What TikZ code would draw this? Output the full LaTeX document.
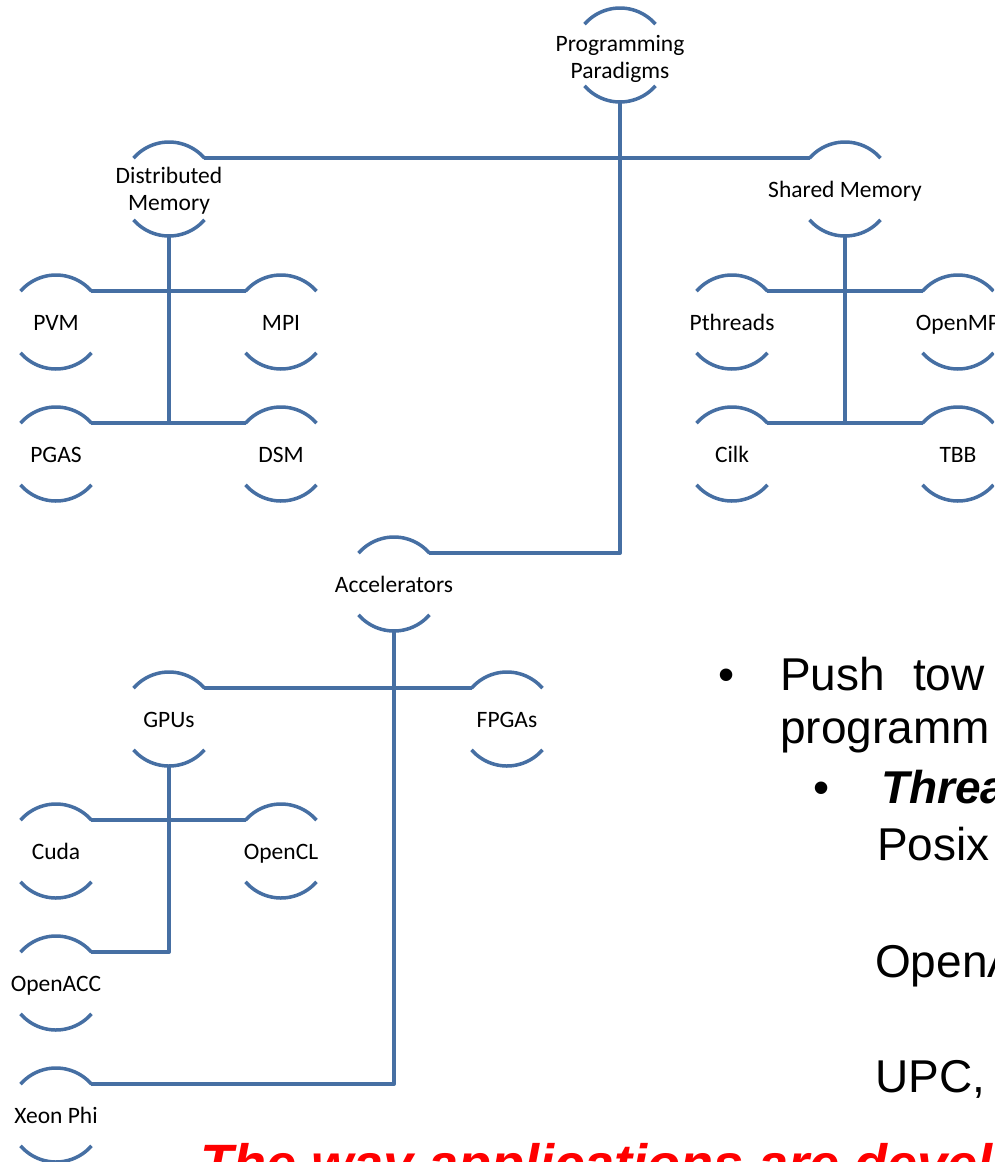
\documentclass[tikz,border=0pt]{standalone}
\usepackage{fontspec}
\setmainfont{Carlito}
\newfontfamily\arialfont{Liberation Sans}
\definecolor{paraline}{RGB}{70,111,163}
\definecolor{slidered}{RGB}{255,0,0}

\begin{document}
\begin{tikzpicture}[x=1pt, y=1pt,
	para/.style={circle, minimum size=94pt, inner sep=0pt, outer sep=0pt},
	rim/.style={color=paraline, line width=3.5pt},
	link/.style={color=paraline, line width=3.5pt, line join=round},
	every label/.style={font=\fontsize{23.5}{27}\selectfont, align=center, inner sep=0pt,
		yshift=-3.5pt, execute at begin node=\strut},
	slide/.style={font=\arialfont\fontsize{46}{55}\selectfont, anchor=base west, inner sep=0pt},
	slidebf/.style={slide, font=\arialfont\bfseries\itshape\fontsize{46}{55}\selectfont}]

	\useasboundingbox (0,0) rectangle (994,-1162);
	\clip (0,0) rectangle (994,-1162);

	% the tree of paradigms
	\node[para, label={[yshift=-2.5pt]center:{Programming\\Paradigms}}] (pp) at (620,-55) {};
	\node[para, label=center:{Distributed\\Memory}] (dm) at (169,-189) {};
	\node[para, label=center:{Shared Memory}] (sm) at (845,-189) {};

	\node[para, label=center:PVM] (pvm) at (56,-322) {};
	\node[para, label=center:MPI] (mpi) at (281,-322) {};
	\node[para, label=center:PGAS] (pgas) at (56,-454) {};
	\node[para, label=center:DSM] (dsm) at (281,-454) {};

	\node[para, label=center:Pthreads] (pthreads) at (732,-322) {};
	\node[para, label=center:OpenMP] (openmp) at (958,-322) {};
	\node[para, label=center:Cilk] (cilk) at (732,-454) {};
	\node[para, label=center:TBB] (tbb) at (958,-454) {};

	\node[para, label=center:Accelerators] (acc) at (394,-584) {};
	\node[para, label=center:GPUs] (gpus) at (169,-719) {};
	\node[para, label=center:FPGAs] (fpgas) at (507,-719) {};
	\node[para, label=center:Cuda] (cuda) at (56,-851) {};
	\node[para, label=center:OpenCL] (opencl) at (281,-851) {};
	\node[para, label=center:OpenACC] (openacc) at (56,-983) {};
	\node[para, label=center:{Xeon Phi}] (xeon) at (56,-1115) {};

	\foreach \n in {pp,dm,sm,pvm,mpi,pgas,dsm,pthreads,openmp,cilk,tbb,acc,gpus,fpgas,cuda,opencl,openacc,xeon}
		\draw[rim] (\n.41) arc[start angle=41, end angle=139, radius=47pt]
		           (\n.221) arc[start angle=221, end angle=319, radius=47pt];

	\draw[link] (pp.south) |- (acc.41);
	\draw[link] (dm.41) -- (sm.139);

	\draw[link] (dm.south) -- (dm.south |- pgas.41);
	\draw[link] (pvm.41) -- (mpi.139);
	\draw[link] (pgas.41) -- (dsm.139);

	\draw[link] (sm.south) -- (sm.south |- cilk.41);
	\draw[link] (pthreads.41) -- (openmp.139);
	\draw[link] (cilk.41) -- (tbb.139);

	\draw[link] (acc.south) |- (xeon.41);
	\draw[link] (gpus.41) -- (fpgas.139);
	\draw[link] (gpus.south) |- (openacc.41);
	\draw[link] (cuda.41) -- (opencl.139);

	% bullet text on the right
	\node[slide, anchor=base] (bul1) at (727,-690) {•};
	\node[slide] (push) at (780,-690) {Push\hspace{28pt}tow};
	\node[slide] (prog) at (780,-743) {programm};
	\node[slide, anchor=base] (bul2) at (822,-803) {•};
	\node[slidebf] (thr) at (881,-803) {Threa};
	\node[slide] (posix) at (877,-860) {Posix};
	\node[slide] (openx) at (875,-977) {OpenA};
	\node[slide] (upc) at (875,-1092) {UPC,};

	\node[slidebf, color=slidered, font=\arialfont\bfseries\itshape\fontsize{54}{62}\selectfont] (way) at (200,-1182) {The way applications are devel};

\end{tikzpicture}
\end{document}
